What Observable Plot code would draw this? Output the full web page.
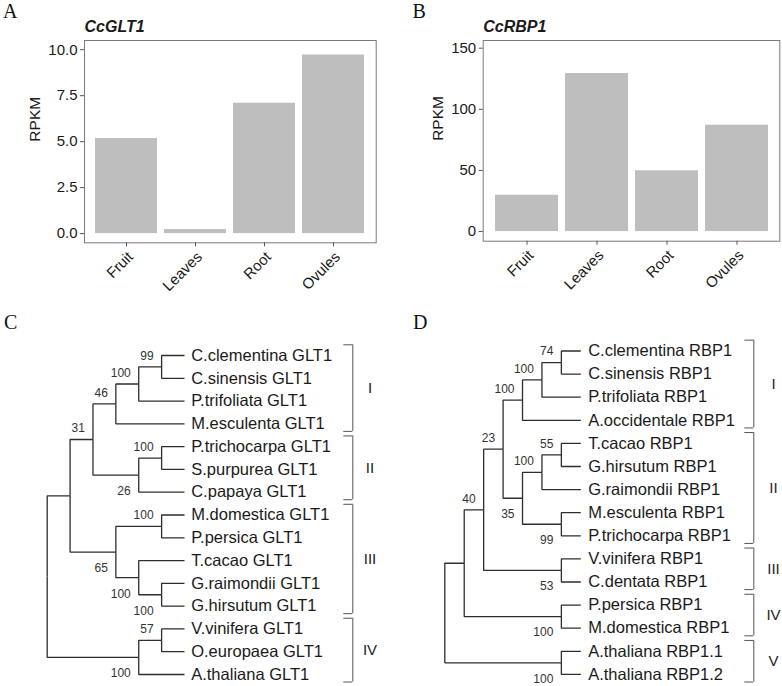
<!DOCTYPE html>
<html>
<head>
<meta charset="utf-8">
<script src="https://cdn.jsdelivr.net/npm/d3@7"></script>
<script src="https://cdn.jsdelivr.net/npm/@observablehq/plot@0.6"></script>
<style>
  body { margin: 0; background: #fff; }
  #fig { position: relative; width: 782px; height: 686px; background: #fff; overflow: hidden;
         font-family: "Liberation Sans", Arial, sans-serif; }
  #fig > svg { position: absolute; }
</style>
</head>
<body>
<div id="fig"></div>
<script>
// ---- Expression (RPKM) per tissue ----
const tissues = ["Fruit", "Leaves", "Root", "Ovules"];
const glt1Rpkm = [5.17, 0.22, 7.09, 9.71];
const rbp1Rpkm = [29.7, 129.3, 49.7, 87.0];
const glt1Ticks = [0, 2.5, 5, 7.5, 10];
const rbp1Ticks = [0, 50, 100, 150];

// ---- Neighbour-joining trees (topology + bootstrap support) ----
const glt1Tree = "((((((C.clementina GLT1,C.sinensis GLT1)99,P.trifoliata GLT1)100,M.esculenta GLT1)46,((P.trichocarpa GLT1,S.purpurea GLT1)100,C.papaya GLT1)26)31,((M.domestica GLT1,P.persica GLT1)100,(T.cacao GLT1,(G.raimondii GLT1,G.hirsutum GLT1)100)100)65),((V.vinifera GLT1,O.europaea GLT1)57,A.thaliana GLT1)100);";
const rbp1Tree = "(((((((C.clementina RBP1,C.sinensis RBP1)74,P.trifoliata RBP1)100,A.occidentale RBP1)100,(((T.cacao RBP1,G.hirsutum RBP1)55,G.raimondii RBP1)100,(M.esculenta RBP1,P.trichocarpa RBP1)99)35)23,(V.vinifera RBP1,C.dentata RBP1)53)40,(P.persica RBP1,M.domestica RBP1)100),(A.thaliana RBP1.1,A.thaliana RBP1.2)100);";

// clade brackets: first and last tip (row index, top to bottom)
const glt1Clades = [
  {name: "I", first: 0, last: 3},
  {name: "II", first: 4, last: 6},
  {name: "III", first: 7, last: 11},
  {name: "IV", first: 12, last: 14}
];
const rbp1Clades = [
  {name: "I", first: 0, last: 3},
  {name: "II", first: 4, last: 8},
  {name: "III", first: 9, last: 10},
  {name: "IV", first: 11, last: 12},
  {name: "V", first: 13, last: 14}
];

const fig = document.getElementById("fig");
const sans = "Liberation Sans, Arial, sans-serif";

function place(el, left, top) {
  el.style.position = "absolute";
  el.style.left = left + "px";
  el.style.top = top + "px";
  fig.appendChild(el);
}

// ---- bar panels ----
function barPanel({title, values, ticks, format, yDomain, marginLeft, marginRight, marginBottom, labelDx}) {
  const data = tissues.map((t, i) => ({tissue: t, rpkm: values[i]}));
  return Plot.plot({
    width: 391,
    height: 300,
    marginTop: 40,
    marginLeft,
    marginRight,
    marginBottom,
    style: {fontFamily: sans, fontSize: "15px", color: "#1a1a1a", background: "transparent", overflow: "visible"},
    x: {type: "band", domain: tissues, paddingInner: 0.1, paddingOuter: 0.15},
    y: {domain: yDomain},
    marks: [
      Plot.barY(data, {x: "tissue", y: "rpkm", fill: "#bebebe"}),
      Plot.frame({stroke: "#7a7a7a"}),
      Plot.axisY({ticks, tickFormat: format, tickSize: 4, tickPadding: 3, stroke: "#555", fill: "#1a1a1a",
                  label: null, fontSize: 15}),
      Plot.axisX({tickSize: 4, tickPadding: 3.5, tickRotate: -45, textAnchor: "end", lineAnchor: "top",
                  stroke: "#555", fill: "#1a1a1a", label: null, fontSize: 15}),
      Plot.text(["RPKM"], {frameAnchor: "left", rotate: -90, dx: labelDx, fontSize: 15.5}),
      Plot.text([title], {frameAnchor: "top-left", textAnchor: "start", lineAnchor: "bottom", dy: -9,
                          fontWeight: "bold", fontStyle: "italic", fontSize: 16})
    ]
  });
}

place(barPanel({
  title: "CcGLT1", values: glt1Rpkm, ticks: glt1Ticks, format: d3.format(".1f"),
  yDomain: [-0.5, 10.5], marginLeft: 84, marginRight: 15.3, marginBottom: 57.7, labelDx: -49
}), 0, 0);

place(barPanel({
  title: "CcRBP1", values: rbp1Rpkm, ticks: rbp1Ticks, format: d3.format("d"),
  yDomain: [-7.9, 156.3], marginLeft: 91.7, marginRight: 2.7, marginBottom: 59.3, labelDx: -44.7
}), 391, 0);

// ---- tree panels ----
function parseNewick(s) {
  let i = 0;
  const word = () => { let w = ""; while (i < s.length && !",();".includes(s[i])) w += s[i++]; return w.trim(); };
  function node() {
    if (s[i] === "(") {
      i++;
      const children = [node()];
      while (s[i] === ",") { i++; children.push(node()); }
      i++; // closing paren
      const label = word();
      return {children, support: label === "" ? null : +label};
    }
    return {name: word()};
  }
  return node();
}

// cladogram layout: tips share one column, each internal node sits one
// level left of its tallest child, vertically midway between its children
function treeLayout(newick) {
  const root = parseNewick(newick);
  const tips = [];
  (function walk(d) {
    if (!d.children) { d.row = tips.length; d.height = 0; tips.push(d); return; }
    d.children.forEach(walk);
    d.height = 1 + d3.max(d.children, c => c.height);
    d.row = (d.children[0].row + d.children[d.children.length - 1].row) / 2;
  })(root);
  const top = root.height;
  const links = [], supports = [];
  (function walk(d) {
    d.level = top - d.height;
    if (!d.children) return;
    d.children.forEach((c, k) => {
      c.level = top - c.height;
      links.push({x1: d.level, y1: d.row, x2: c.level, y2: c.row});
      if (c.children && c.support != null) {
        supports.push({level: c.level, row: c.row, support: c.support, upper: k === 0});
      }
      walk(c);
    });
  })(root);
  return {tips, links, supports, levels: top};
}

function treePanel(newick, clades, {xRange, yRange, tipDx, bracketDx, numeralDx}) {
  const {tips, links, supports, levels} = treeLayout(newick);
  const brackets = clades.map(c => ({...c, y1: c.first - 0.47, y2: c.last + 0.33}));
  const bracketEnds = brackets.flatMap(b => [{y: b.y1}, {y: b.y2}]);
  return Plot.plot({
    width: 391,
    height: 356,
    margin: 0,
    style: {fontFamily: sans, color: "#1a1a1a", background: "transparent", overflow: "visible"},
    x: {domain: [0, levels], range: xRange, axis: null},
    y: {domain: [0, tips.length - 1], range: yRange, axis: null},
    marks: [
      Plot.link(links, {x1: "x1", y1: "y1", x2: "x2", y2: "y2", curve: "step-before",
                        stroke: "#2e2e2e", strokeWidth: 1.3}),
      Plot.text(tips, {x: levels, y: "row", text: "name", textAnchor: "start", dx: tipDx, fontSize: 16.5, fill: "#1a1a1a"}),
      Plot.text(supports.filter(d => d.upper), {x: "level", y: "row", text: "support", textAnchor: "end",
                                                dx: -8, dy: -11, fontSize: 12, fill: "#333"}),
      Plot.text(supports.filter(d => !d.upper), {x: "level", y: "row", text: "support", textAnchor: "end",
                                                 dx: -8, dy: 16, fontSize: 12, fill: "#333"}),
      Plot.ruleX(brackets, {x: levels, y1: "y1", y2: "y2", dx: bracketDx, stroke: "#555", strokeWidth: 1}),
      Plot.ruleY(bracketEnds, {y: "y", x1: levels, x2: levels, insetLeft: -9, dx: bracketDx, stroke: "#555", strokeWidth: 1}),
      Plot.text(brackets, {x: levels, y: d => (d.y1 + d.y2) / 2, text: "name", dx: numeralDx, fontSize: 15, fill: "#222"})
    ]
  });
}

place(treePanel(glt1Tree, glt1Clades, {
  xRange: [46.7, 184], yRange: [25, 344], tipDx: 6.7, bracketDx: 168.3, numeralDx: 185.5
}), 0, 330);

place(treePanel(rbp1Tree, rbp1Clades, {
  xRange: [53.3, 189.3], yRange: [20.5, 343.9], tipDx: 7.4, bracketDx: 173, numeralDx: 192.7
}), 391, 330);

// ---- panel letters ----
const tags = d3.select(fig).append("svg")
  .attr("width", 782).attr("height", 686)
  .style("position", "absolute").style("left", 0).style("top", 0)
  .style("pointer-events", "none");
tags.selectAll("text")
  .data([["A", 3, 18], ["B", 412.5, 18], ["C", 4, 329], ["D", 413, 329]])
  .join("text")
  .attr("x", d => d[1]).attr("y", d => d[2])
  .attr("font-family", "Liberation Serif, Times New Roman, serif")
  .attr("font-size", 20).attr("fill", "#111")
  .text(d => d[0]);
</script>
</body>
</html>
